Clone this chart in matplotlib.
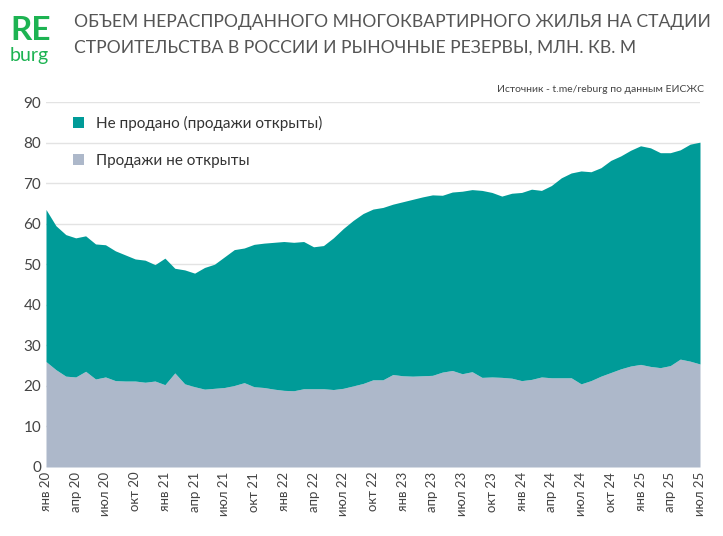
import matplotlib.pyplot as plt
import numpy as np

plt.rcParams["font.family"] = "Lato"

# total unsold stock (top of stack), mln sq m, monthly jan 2020 .. jul 2025
total = [63.5, 59.5, 57.3, 56.5, 57.0, 55.0, 54.8, 53.3, 52.3, 51.3, 51.0, 49.9,
         51.5, 49.0, 48.6, 47.8, 49.2, 50.0, 51.8, 53.6, 54.0, 54.9, 55.2, 55.4,
         55.6, 55.4, 55.6, 54.3, 54.6, 56.5, 58.8, 60.8, 62.5, 63.6, 64.0, 64.8,
         65.4, 66.0, 66.6, 67.1, 67.0, 67.8, 68.0, 68.4, 68.2, 67.7, 66.8, 67.5,
         67.7, 68.5, 68.2, 69.4, 71.3, 72.5, 73.0, 72.8, 73.8, 75.6, 76.7, 78.1,
         79.2, 78.7, 77.5, 77.5, 78.2, 79.6, 80.1]
# sales not opened
not_opened = [26.0, 24.0, 22.4, 22.2, 23.6, 21.7, 22.2, 21.3, 21.2, 21.2, 20.9, 21.2,
              20.3, 23.2, 20.5, 19.8, 19.2, 19.4, 19.6, 20.1, 20.8, 19.8, 19.6, 19.2,
              18.9, 18.8, 19.3, 19.3, 19.3, 19.1, 19.4, 20.0, 20.6, 21.5, 21.5, 22.8,
              22.5, 22.4, 22.5, 22.6, 23.4, 23.8, 23.0, 23.5, 22.1, 22.2, 22.1, 21.9,
              21.3, 21.6, 22.2, 22.0, 22.0, 22.0, 20.5, 21.3, 22.4, 23.3, 24.2, 24.9,
              25.3, 24.8, 24.5, 25.0, 26.6, 26.1, 25.4]
months = ["янв", "апр", "июл", "окт"]
years = range(20, 26)
tick_labels = [f"{m} {y}" for y in years for m in months][:23]

teal = "#009b98"
grey = "#adb8ca"

x = np.arange(len(total))
fig = plt.figure(figsize=(7.23, 5.36), dpi=100)
ax = fig.add_axes([46 / 723, 1 - 467 / 536, 654 / 723, 365 / 536])
ax.fill_between(x, 0, not_opened, color=grey, lw=0, label="Продажи не открыты")
ax.fill_between(x, not_opened, total, color=teal, lw=0, label="Не продано (продажи открыты)")

ax.set_xlim(0, len(total) - 1)
ax.set_ylim(0, 90)
ax.set_yticks(range(0, 91, 10))
ax.set_xticks(x[::3], tick_labels, rotation=90)
ax.tick_params(axis="both", length=0, labelsize=11, colors="#444444")
ax.tick_params(axis="x", labelsize=9.5)
ax.grid(axis="y", color="#e3e3e3", lw=1)
ax.set_axisbelow(True)
for s in ax.spines.values():
    s.set_visible(False)

h, l = ax.get_legend_handles_labels()
ax.legend(h[::-1], l[::-1], loc="upper left", bbox_to_anchor=(0.02, 1.0), frameon=False,
          fontsize=11, handlelength=0.7, handleheight=0.7, labelspacing=1.5, labelcolor="#333333")

fig.text(10 / 723, 1 - 31 / 536, "RE", fontsize=24, fontweight="bold", color="#1db352", va="center")
fig.text(10 / 723, 1 - 55 / 536, "burg", fontsize=14, color="#1db352", va="center")
fig.text(74 / 723, 1 - 22 / 536, "ОБЪЕМ НЕРАСПРОДАННОГО МНОГОКВАРТИРНОГО ЖИЛЬЯ НА СТАДИИ",
         fontsize=12.6, color="#555555", va="center")
fig.text(74 / 723, 1 - 48 / 536, "СТРОИТЕЛЬСТВА В РОССИИ И РЫНОЧНЫЕ РЕЗЕРВЫ, МЛН. КВ. М",
         fontsize=12.6, color="#555555", va="center")
fig.text(704 / 723, 1 - 90 / 536, "Источник - t.me/reburg по данным ЕИСЖС",
         fontsize=7.5, color="#444444", ha="right", va="center")

fig.savefig("out.png", dpi=100)
